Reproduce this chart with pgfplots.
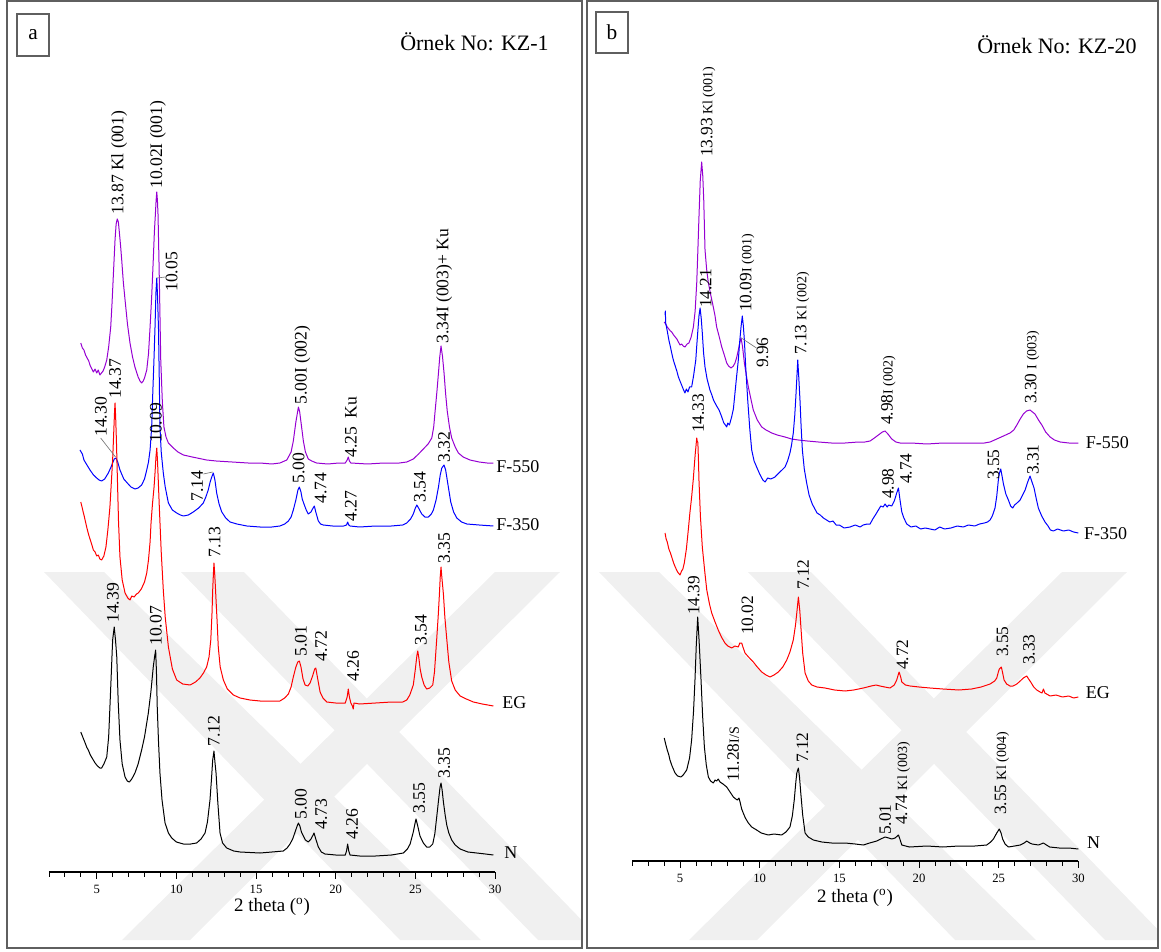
\documentclass[border=0pt]{standalone}
\usepackage{fontspec}
\setmainfont{Liberation Serif}
\usepackage{pgfplots}
\pgfplotsset{compat=1.18}
\definecolor{cpur}{RGB}{150,0,210}
\definecolor{cblu}{RGB}{0,0,255}
\definecolor{cred}{RGB}{255,0,0}
\definecolor{cframe}{RGB}{95,95,95}
\definecolor{clead}{RGB}{120,120,120}
\definecolor{cwm}{RGB}{240,240,240}
\newcommand\fa{\fontsize{13.2}{13.2}\selectfont}
\newcommand\fb{\fontsize{13}{13}\selectfont}
\newcommand\fs{\fontsize{10.5}{10.5}\selectfont}
\pgfplotsset{
  xrdaxis/.style={
    scale only axis, width=334.6pt, height=615pt,
    xmin=2, xmax=30, ymin=0, ymax=820,
    axis x line*=bottom, axis y line=none,
    xtick={5,10,...,30}, minor xtick={2,3,...,30},
    tick align=outside, major tick length=5pt, minor tick length=3.5pt,
    x axis line style={line width=1.2pt},
    every tick/.style={line width=0.6pt, black},
    xticklabel style={font=\fontsize{9.5}{9.5}\selectfont, yshift=-1pt},
    /pgf/number format/assume math mode=true,
    clip=false, anchor=south west,
  },
}
\tikzset{
  lab/.style={rotate=90, anchor=base west, inner sep=0pt, font=\fa},
  labb/.style={rotate=90, anchor=base west, inner sep=0pt, font=\fb},
  cl/.style={anchor=west, inner sep=0pt, font=\fontsize{13.5}{13.5}\selectfont},
  xrd/.style={line width=0.75pt, line join=round},
}
\begin{document}
\begin{tikzpicture}[x=0.75pt,y=-0.75pt]
\useasboundingbox (0,0) rectangle (1161,952);
% watermark
\begin{scope}
\clip (7,1) rectangle (582,948);
\fill[cwm] (44,572) -- (104,572) -- (481,940) -- (400,940) -- cycle;
\fill[cwm] (181,572) -- (244,572) -- (601,940) -- (538,940) -- cycle;
\fill[cwm] (122,940) -- (190,940) -- (560,572) -- (495,572) -- cycle;
\end{scope}
\begin{scope}
\clip (587,1) rectangle (1158,948);
\fill[cwm] (599,572) -- (659,572) -- (1036,940) -- (955,940) -- cycle;
\fill[cwm] (748,572) -- (811,572) -- (1168,940) -- (1105,940) -- cycle;
\fill[cwm] (689,940) -- (757,940) -- (1127,572) -- (1062,572) -- cycle;
\end{scope}
% frames
\draw[cframe, line width=0.9pt] (7,1) rectangle (582,948);
\draw[cframe, line width=0.9pt] (587,1) rectangle (1158,948);
\draw[cframe, line width=0.9pt] (17,14) rectangle (49,56);
\node[font=\fontsize{16}{16}\selectfont] at (33,35) {a};
\draw[cframe, line width=0.9pt] (596,12) rectangle (628,53);
\node[font=\fontsize{16}{16}\selectfont] at (612,32) {b};
\node[anchor=east, inner sep=0pt, font=\fontsize{16.5}{16.5}\selectfont] at (549,42) {Örnek No: KZ-1};
\node[anchor=east, inner sep=0pt, font=\fontsize{16.5}{16.5}\selectfont] at (1137,45) {Örnek No: KZ-20};
\node[font=\fontsize{14.2}{14.2}\selectfont] at (272,907) {2 theta (\textsuperscript{o})};
\node[font=\fontsize{14.2}{14.2}\selectfont] at (855,898) {2 theta (\textsuperscript{o})};

% ---------------- panel a ----------------
\begin{axis}[xrdaxis, at={(36.675pt,-654pt)}]
\addplot[xrd, cpur] coordinates {(4.00,529)(4.1,524)(4.2,522)(4.3,517)(4.4,514)(4.5,511)(4.6,506)(4.7,503)(4.79,500)(4.9,503)(5.0,499)(5.1,502)(5.2,497)(5.3,499)(5.4,501)(5.5,505)(5.63,512)(5.75,525)(5.88,545)(5.96,568)(6.04,595)(6.15,632)(6.22,648)(6.29,653)(6.36,650)(6.42,640)(6.5,626)(6.57,612)(6.67,590)(6.78,572)(6.93,548)(7.09,529)(7.25,515)(7.4,505)(7.6,495)(7.72,491)(7.82,489)(7.92,491)(8.0,494)(8.14,502)(8.25,518)(8.35,545)(8.45,575)(8.55,612)(8.62,640)(8.68,657)(8.73,672)(8.77,680)(8.81,672)(8.85,657)(8.92,602)(9.02,512)(9.12,470)(9.22,445)(9.35,435)(9.5,429)(9.81,424)(10.1,420)(10.44,417)(11.0,415)(11.9,412)(12.5,411)(13.5,410)(14.5,409)(15.25,409)(16.0,408)(16.5,409)(16.93,412)(17.2,420)(17.34,431)(17.5,450)(17.66,465)(17.74,460)(17.82,450)(17.97,431)(18.1,420)(18.28,413)(18.5,411)(18.8,409)(19.5,408)(20.2,409)(20.6,409)(20.72,412)(20.79,415)(20.86,411)(20.95,409)(22,408)(23,409)(24.0,409)(24.46,410)(24.87,413)(25.2,418)(25.5,423)(25.8,428)(26.03,434)(26.15,445)(26.24,461)(26.35,480)(26.45,499)(26.53,515)(26.61,526)(26.7,516)(26.8,499)(26.9,478)(27.0,461)(27.14,445)(27.28,434)(27.5,425)(27.7,419)(28.0,415)(28.43,412)(29.0,410)(29.5,409)(29.9,409)};
\addplot[xrd, cblu] coordinates {(3.95,422)(4.1,418)(4.2,412)(4.35,408)(4.58,402)(4.8,397)(5.0,394)(5.15,392)(5.31,391)(5.5,393)(5.73,399)(5.9,405)(6.0,409)(6.1,413)(6.21,414)(6.32,410)(6.46,402)(6.7,393)(6.92,389)(7.15,385)(7.4,383)(7.6,384)(7.82,387)(8.0,393)(8.14,402)(8.25,410)(8.35,422)(8.45,445)(8.52,479)(8.6,515)(8.66,545)(8.72,580)(8.77,594)(8.82,575)(8.88,542)(8.93,490)(8.97,445)(9.05,420)(9.18,399)(9.3,385)(9.5,369)(9.75,362)(10.02,359)(10.25,357)(10.44,356)(10.75,357)(11.06,360)(11.4,364)(11.69,369)(11.85,375)(12.0,382)(12.12,390)(12.22,395)(12.32,399)(12.42,392)(12.53,379)(12.68,368)(12.85,360)(13.1,354)(13.37,350)(13.8,348)(14.42,346)(15.25,345)(16.0,345)(16.5,346)(16.8,348)(17.03,351)(17.2,355)(17.34,362)(17.5,372)(17.63,382)(17.72,385)(17.82,380)(17.9,373)(18.01,368)(18.15,362)(18.28,358)(18.45,360)(18.58,364)(18.66,366)(18.75,360)(18.91,351)(19.05,348)(19.22,347)(19.8,346)(20.5,346)(20.68,347)(20.75,350)(20.82,347)(20.9,346)(21.5,345)(22.5,346)(23.5,346)(24.2,347)(24.46,349)(24.7,353)(24.87,358)(25.0,364)(25.09,367)(25.2,364)(25.4,358)(25.6,355)(25.82,355)(26.0,358)(26.13,362)(26.3,372)(26.45,385)(26.56,397)(26.66,404)(26.8,407)(26.9,402)(27.0,392)(27.1,382)(27.22,370)(27.4,360)(27.6,354)(27.9,350)(28.23,348)(29.0,347)(29.9,346)};
\addplot[xrd, cred] coordinates {(4.0,370)(4.08,365)(4.15,360)(4.2,357)(4.3,350)(4.37,345)(4.45,340)(4.5,337)(4.6,332)(4.7,327)(4.79,322)(4.9,320)(5.0,316)(5.1,317)(5.2,313)(5.31,312)(5.45,316)(5.58,325)(5.7,342)(5.83,365)(5.92,390)(6.0,412)(6.07,440)(6.12,460)(6.15,469)(6.19,455)(6.24,430)(6.29,399)(6.37,350)(6.46,315)(6.6,292)(6.78,279)(6.95,274)(7.09,272)(7.2,276)(7.35,275)(7.5,278)(7.61,279)(7.8,283)(8.0,290)(8.14,299)(8.25,312)(8.35,330)(8.41,349)(8.5,368)(8.6,385)(8.66,399)(8.72,415)(8.77,424)(8.82,410)(8.88,385)(8.93,365)(9.05,320)(9.18,282)(9.3,255)(9.5,225)(9.75,203)(10.02,192)(10.4,188)(10.86,187)(11.2,190)(11.48,194)(11.7,199)(11.9,205)(12.05,215)(12.16,232)(12.24,260)(12.28,282)(12.33,300)(12.36,309)(12.4,300)(12.45,285)(12.49,272)(12.56,250)(12.63,225)(12.75,205)(12.95,192)(13.2,183)(13.58,177)(14.0,174)(14.62,172)(15.25,171)(16.0,171)(16.5,171)(16.8,174)(17.03,178)(17.2,185)(17.34,195)(17.5,205)(17.62,210)(17.72,211)(17.82,205)(17.95,193)(18.08,187)(18.25,186)(18.39,189)(18.55,196)(18.68,203)(18.75,204)(18.85,195)(19.02,180)(19.2,174)(19.44,170)(20.0,169)(20.6,169)(20.72,175)(20.79,183)(20.86,175)(20.95,169)(21.05,166)(21.1,163)(21.15,169)(21.5,168)(22.5,169)(23.5,170)(24.2,170)(24.46,172)(24.65,177)(24.87,187)(25.0,203)(25.1,217)(25.15,221)(25.22,214)(25.3,203)(25.4,195)(25.55,187)(25.71,183)(25.9,184)(26.09,187)(26.2,200)(26.34,233)(26.43,255)(26.51,278)(26.56,295)(26.61,305)(26.66,295)(26.76,278)(26.85,255)(26.97,233)(27.1,210)(27.28,191)(27.5,182)(27.81,176)(28.2,173)(28.64,170)(29.2,168)(29.9,166)};
\addplot[xrd, black] coordinates {(4.0,140)(4.1,136)(4.2,132)(4.3,128)(4.37,125)(4.5,121)(4.6,117)(4.75,113)(4.9,109)(5.05,106)(5.2,104)(5.31,104)(5.45,108)(5.63,115)(5.75,135)(5.83,165)(5.92,200)(6.0,232)(6.1,245)(6.18,232)(6.26,215)(6.35,170)(6.46,132)(6.6,108)(6.78,95)(6.92,91)(7.05,90)(7.2,93)(7.4,99)(7.6,108)(7.82,122)(8.0,135)(8.24,159)(8.4,180)(8.55,205)(8.64,216)(8.7,222)(8.75,200)(8.8,165)(8.88,130)(8.97,99)(9.1,72)(9.29,49)(9.5,39)(9.71,34)(10.0,30)(10.44,28)(10.9,28)(11.27,29)(11.55,33)(11.8,39)(11.95,50)(12.11,72)(12.2,92)(12.28,112)(12.36,121)(12.42,110)(12.49,99)(12.6,70)(12.74,39)(12.9,29)(13.16,24)(13.6,21)(14.0,20)(15.25,19)(16.0,20)(16.71,21)(16.95,24)(17.13,28)(17.3,33)(17.45,40)(17.58,46)(17.66,49)(17.75,46)(17.85,40)(17.97,36)(18.1,32)(18.28,30)(18.45,33)(18.58,37)(18.64,39)(18.75,33)(18.91,25)(19.1,20)(19.33,18)(20.0,17)(20.6,17)(20.68,21)(20.75,28)(20.82,21)(20.9,17)(21.5,16)(22.5,16)(23.5,17)(24.25,19)(24.5,23)(24.67,28)(24.87,40)(24.97,48)(25.04,53)(25.15,46)(25.29,36)(25.5,29)(25.71,25)(25.9,25)(26.09,28)(26.22,38)(26.34,55)(26.47,74)(26.55,85)(26.61,89)(26.68,82)(26.76,70)(26.87,57)(26.97,47)(27.1,39)(27.28,32)(27.5,27)(27.81,23)(28.3,20)(28.85,19)(29.4,18)(29.9,17)};
% F-550 labels
\node[lab] at (axis cs:6.67,657) {13.87 Kl (001)};
\node[lab] at (axis cs:9.1,683) {10.02I (001)};
\node[lab] at (axis cs:18.17,467) {5.00I (002)};
\node[lab] at (axis cs:21.31,414) {4.25\ \ Ku};
\node[lab] at (axis cs:27.07,528) {3.34I (003)+ Ku};
% F-350 labels
\node[lab] at (axis cs:10.07,580) {10.05};
\draw[clead, line width=0.5pt] (axis cs:8.8,594) -- (axis cs:9.3,595);
\node[lab] at (axis cs:5.62,435) {14.30};
\draw[clead, line width=0.5pt] (axis cs:5.25,434) -- (axis cs:6.18,415);
\node[lab] at (axis cs:11.66,370) {7.14};
\draw[clead, line width=0.5pt] (axis cs:11.7,398) -- (axis cs:12.28,400);
\node[lab] at (axis cs:18.04,388) {5.00};
\node[lab] at (axis cs:19.41,368) {4.74};
\node[lab] at (axis cs:21.31,350) {4.27};
\node[lab] at (axis cs:25.64,369) {3.54};
\node[lab] at (axis cs:27.16,409) {3.32};
% EG labels
\node[lab] at (axis cs:6.51,473) {14.37};
\node[lab] at (axis cs:9.08,429) {10.09};
\node[lab] at (axis cs:12.76,314) {7.13};
\node[lab] at (axis cs:18.17,215) {5.01};
\node[lab] at (axis cs:19.44,210) {4.72};
\node[lab] at (axis cs:21.46,190) {4.26};
\node[lab] at (axis cs:25.71,226) {3.54};
\node[lab] at (axis cs:27.16,308) {3.35};
% N labels
\node[lab] at (axis cs:6.38,249) {14.39};
\node[lab] at (axis cs:9.07,226) {10.07};
\node[lab] at (axis cs:12.72,125) {7.12};
\node[lab] at (axis cs:18.17,52) {5.00};
\node[lab] at (axis cs:19.44,42) {4.73};
\node[lab] at (axis cs:21.39,32) {4.26};
\node[lab] at (axis cs:25.59,58) {3.55};
\node[lab] at (axis cs:27.16,93) {3.35};
% curve names
\node[cl] at (axis cs:30.07,405) {F-550};
\node[cl] at (axis cs:30.07,347) {F-350};
\node[cl] at (axis cs:30.45,169) {EG};
\node[cl] at (axis cs:30.57,19) {N};
\end{axis}

% ---------------- panel b ----------------
\begin{axis}[xrdaxis, at={(474.15pt,-645.75pt)}]
\addplot[xrd, cpur] coordinates {(4.01,539)(4.1,537)(4.2,534)(4.3,532)(4.4,530)(4.48,529)(4.6,526)(4.7,524)(4.8,522)(4.9,519)(5.0,516)(5.1,517)(5.2,515)(5.31,514)(5.45,517)(5.56,518)(5.7,524)(5.84,534)(5.95,550)(6.05,578)(6.12,610)(6.19,644)(6.27,680)(6.36,699)(6.43,685)(6.49,661)(6.57,611)(6.67,592)(6.78,578)(6.93,566)(7.09,554)(7.2,545)(7.30,534)(7.45,525)(7.62,514)(7.8,505)(7.93,498)(8.05,495)(8.2,493)(8.35,495)(8.45,498)(8.55,503)(8.66,511)(8.75,518)(8.83,523)(8.92,515)(9.04,498)(9.15,487)(9.29,474)(9.45,462)(9.6,451)(9.85,441)(10.13,434)(10.4,431)(10.76,428)(11.1,426)(11.59,424)(12.0,422)(12.43,421)(13.0,420)(13.68,419)(14.5,418)(15.36,418)(16.2,419)(16.6,419)(16.93,420)(17.2,423)(17.45,426)(17.7,429)(17.87,430)(18.05,427)(18.29,422)(18.55,419)(18.81,418)(19.5,418)(20.5,417)(21.5,418)(22.5,418)(23.5,418)(24.1,418)(24.46,419)(24.88,422)(25.3,425)(25.71,428)(25.95,431)(26.14,436)(26.35,442)(26.55,447)(26.75,450)(26.97,451)(27.12,449)(27.28,447)(27.5,441)(27.71,436)(27.95,429)(28.23,424)(28.5,421)(28.86,419)(29.4,418)(30,418)};
\addplot[xrd, cblu] coordinates {(4.06,546)(4.08,550)(4.1,538)(4.2,530)(4.3,521)(4.4,514)(4.48,508)(4.55,503)(4.6,500)(4.7,495)(4.8,490)(4.9,484)(5.0,480)(5.1,476)(5.2,472)(5.31,468)(5.4,472)(5.5,469)(5.6,474)(5.73,474)(5.85,485)(5.99,501)(6.05,515)(6.11,528)(6.19,545)(6.26,553)(6.33,543)(6.40,528)(6.48,508)(6.57,494)(6.7,482)(6.88,471)(7.0,466)(7.1,461)(7.2,458)(7.3,455)(7.45,451)(7.55,447)(7.62,444)(7.75,438)(7.85,436)(7.93,434)(8.0,438)(8.1,436)(8.24,444)(8.35,452)(8.45,468)(8.55,484)(8.66,501)(8.75,520)(8.83,534)(8.91,545)(8.97,536)(9.04,521)(9.12,495)(9.25,461)(9.38,432)(9.5,411)(9.65,400)(9.81,394)(10.0,387)(10.2,381)(10.34,379)(10.5,383)(10.7,382)(10.96,384)(11.2,388)(11.4,391)(11.59,394)(11.75,400)(11.9,408)(12.0,416)(12.11,428)(12.2,445)(12.26,461)(12.33,482)(12.39,501)(12.45,485)(12.53,461)(12.6,435)(12.68,411)(12.8,392)(12.95,378)(13.1,366)(13.3,357)(13.6,348)(13.8,346)(14.0,343)(14.2,341)(14.4,339)(14.6,340)(14.8,336)(15.0,336)(15.3,333)(15.67,334)(16.0,336)(16.3,334)(16.5,336)(16.75,337)(16.93,337)(17.1,342)(17.3,347)(17.45,351)(17.6,355)(17.75,354)(17.87,357)(18.0,354)(18.1,356)(18.29,355)(18.45,360)(18.6,368)(18.71,373)(18.8,362)(18.92,349)(19.05,343)(19.23,337)(19.5,334)(19.8,335)(20.1,332)(20.4,333)(20.69,332)(21.0,331)(21.3,334)(21.6,332)(22.0,333)(22.4,335)(22.78,334)(23.1,336)(23.5,335)(23.8,337)(24.1,338)(24.3,339)(24.46,341)(24.6,345)(24.77,353)(24.88,365)(24.98,381)(25.05,388)(25.13,392)(25.2,386)(25.3,377)(25.45,367)(25.61,361)(25.75,355)(25.88,353)(26.0,356)(26.15,358)(26.35,361)(26.5,366)(26.66,371)(26.8,378)(26.87,381)(26.97,385)(27.05,381)(27.22,373)(27.35,363)(27.49,353)(27.7,345)(27.91,339)(28.1,335)(28.25,331)(28.43,330)(28.7,332)(29.06,330)(29.4,331)(29.7,329)(30,328)};
\addplot[xrd, cred] coordinates {(4.06,328)(4.13,322)(4.2,319)(4.3,312)(4.4,308)(4.48,304)(4.6,298)(4.7,294)(4.85,289)(5.0,286)(5.1,290)(5.18,292)(5.27,298)(5.4,312)(5.52,331)(5.62,348)(5.73,364)(5.83,381)(5.95,406)(6.05,423)(6.09,419)(6.12,419)(6.16,400)(6.19,381)(6.28,345)(6.4,314)(6.55,290)(6.68,271)(6.85,257)(6.99,248)(7.2,239)(7.4,231)(7.6,224)(7.82,218)(8.0,215)(8.24,213)(8.45,215)(8.66,214)(8.75,218)(8.87,218)(8.95,214)(9.08,208)(9.3,204)(9.6,199)(9.85,194)(10.13,189)(10.4,186)(10.65,184)(10.9,186)(11.17,189)(11.45,194)(11.7,201)(11.9,209)(12.11,221)(12.25,236)(12.33,248)(12.43,264)(12.52,250)(12.6,231)(12.7,208)(12.85,188)(13.05,180)(13.27,176)(13.6,174)(14.1,173)(14.7,171)(15.36,170)(15.9,171)(16.51,173)(17.0,175)(17.3,176)(17.55,175)(17.85,174)(18.18,173)(18.45,176)(18.6,181)(18.75,189)(18.85,184)(18.92,179)(19.15,176)(19.44,175)(20.0,174)(20.69,173)(21.5,172)(22.5,171)(23.3,172)(23.9,174)(24.46,177)(24.75,180)(24.88,183)(24.98,189)(25.04,192)(25.17,194)(25.25,188)(25.34,181)(25.5,177)(25.71,175)(25.9,175)(26.14,177)(26.35,180)(26.55,183)(26.76,185)(26.88,182)(27.01,179)(27.2,174)(27.39,171)(27.6,169)(27.72,168)(27.81,172)(27.9,168)(28.23,165)(28.6,166)(29.0,164)(29.4,165)(29.7,163)(30,164)};
\addplot[xrd, black] coordinates {(4.01,123)(4.1,117)(4.2,111)(4.3,106)(4.37,101)(4.5,95)(4.69,88)(4.85,85)(5.06,84)(5.2,86)(5.42,91)(5.6,103)(5.73,121)(5.85,150)(5.94,181)(6.02,215)(6.11,244)(6.2,220)(6.32,181)(6.42,145)(6.53,114)(6.65,96)(6.78,84)(6.92,80)(7.09,78)(7.2,81)(7.3,80)(7.4,82)(7.51,79)(7.7,77)(7.93,74)(8.1,70)(8.35,64)(8.5,62)(8.6,61)(8.7,63)(8.77,59)(8.87,52)(8.97,48)(9.1,43)(9.29,38)(9.5,34)(9.81,31)(10.1,28)(10.54,26)(10.9,27)(11.38,26)(11.65,29)(11.9,34)(12.05,45)(12.17,61)(12.27,79)(12.33,88)(12.43,93)(12.5,84)(12.58,68)(12.7,46)(12.85,28)(13.05,24)(13.37,21)(13.9,19)(14.52,18)(15.36,18)(16.0,17)(16.51,16)(16.9,18)(17.35,20)(17.6,22)(17.87,24)(18.1,23)(18.29,22)(18.5,23)(18.71,26)(18.8,22)(18.92,16)(19.4,14)(20.5,15)(21.5,14)(22.5,15)(23.5,15)(24.25,16)(24.5,19)(24.67,22)(24.88,28)(25.04,32)(25.15,28)(25.25,22)(25.4,17)(25.61,14)(26.0,15)(26.35,16)(26.6,18)(26.76,20)(26.95,18)(27.1,17)(27.5,16)(27.81,18)(28.0,16)(28.2,14)(28.8,13)(29.4,13)(30,12)};
% F-550 labels
\node[labb] at (axis cs:7.03,704) {13.93\,{\fs Kl (001)}};
\node[labb] at (axis cs:10.53,493) {9.96};
\draw[clead, line width=0.5pt] (axis cs:8.85,523) -- (axis cs:9.8,513);
\node[labb] at (axis cs:18.35,436) {4.98{\fs I (002)}};
\node[labb] at (axis cs:27.37,457) {3.30 {\fs I (003)}};
% F-350 labels
\node[labb] at (axis cs:6.97,553) {14.21};
\node[labb] at (axis cs:9.48,549) {10.09{\fs I (001)}};
\node[labb] at (axis cs:12.93,506) {7.13 {\fs Kl (002)}};
\node[labb] at (axis cs:18.41,362) {4.98};
\node[labb] at (axis cs:19.53,377) {4.74};
\node[labb] at (axis cs:25.03,381) {3.55};
\node[labb] at (axis cs:27.5,386) {3.31};
% EG labels
\node[labb] at (axis cs:6.5,428) {14.33};
\node[labb] at (axis cs:9.59,226) {10.02};
\node[labb] at (axis cs:13.09,271) {7.12};
\node[labb] at (axis cs:19.32,191) {4.72};
\node[labb] at (axis cs:25.59,204) {3.55};
\node[labb] at (axis cs:27.26,196) {3.33};
% N labels
\node[labb] at (axis cs:6.22,246) {14.39};
\node[labb] at (axis cs:8.7,79) {11.28{\fs I/S}};
\node[labb] at (axis cs:13.04,98) {7.12};
\node[labb] at (axis cs:18.23,26) {5.01};
\node[labb] at (axis cs:19.25,36) {4.74 {\fs Kl (003)}};
\node[labb] at (axis cs:25.47,46) {3.55 {\fs Kl (004)}};
% curve names
\node[cl] at (axis cs:30.46,418) {F-550};
\node[cl] at (axis cs:30.34,327) {F-350};
\node[cl] at (axis cs:30.46,168) {EG};
\node[cl] at (axis cs:30.53,18) {N};
\end{axis}
\end{tikzpicture}
\end{document}
